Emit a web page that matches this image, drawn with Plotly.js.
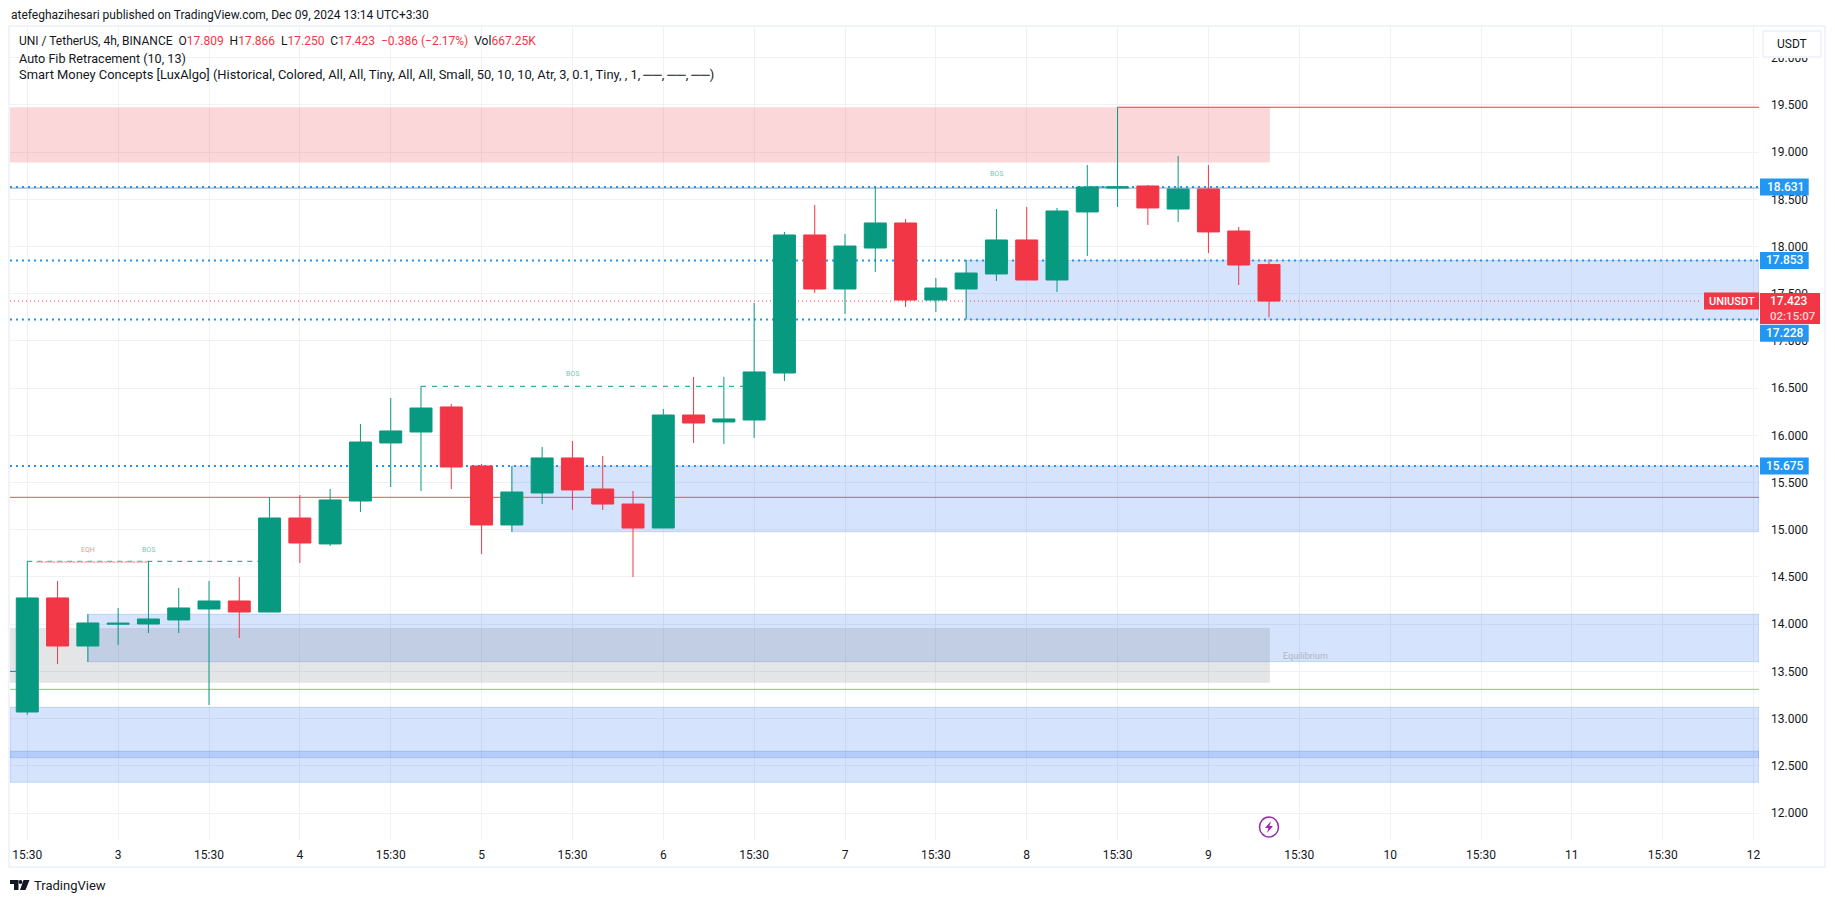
<!DOCTYPE html>
<html><head><meta charset="utf-8">
<script src="https://cdn.plot.ly/plotly-3.0.1.min.js"></script>
<style>html,body{margin:0;padding:0;background:#fff;overflow:hidden}#c{width:1835px;height:903px}</style>
</head><body><div id="c"></div>
<script>
const opens  = [13.07,14.278,13.769,14.0,14.002,14.045,14.161,14.246,14.129,15.125,14.85,15.305,15.92,16.036,16.301,15.676,15.051,15.39,15.761,15.432,15.273,15.019,16.216,16.142,16.163,16.661,18.123,17.551,17.985,18.25,17.434,17.551,17.71,18.07,17.646,18.367,18.62,18.642,18.398,18.61,18.165,17.809];
const highs  = [14.666,14.458,14.108,14.172,14.666,14.383,14.458,14.5,15.344,15.369,15.432,16.121,16.396,16.52,16.333,15.697,15.676,15.877,15.941,15.782,15.411,16.28,16.619,16.619,17.403,18.155,18.441,18.133,18.631,18.292,17.667,17.858,18.398,18.42,18.409,18.864,19.476,18.653,18.96,18.864,18.208,17.866];
const lows   = [13.04,13.578,13.6,13.78,13.907,13.907,13.144,13.854,14.129,14.648,14.828,15.189,15.453,15.411,15.432,14.744,14.977,15.273,15.21,15.21,14.5,15.019,15.92,15.909,15.972,16.576,17.508,17.286,17.731,17.36,17.307,17.233,17.636,17.646,17.519,17.9,18.42,18.229,18.261,17.932,17.593,17.25];
const closes = [14.278,13.769,14.013,14.01,14.055,14.172,14.246,14.129,15.125,14.86,15.316,15.93,16.047,16.29,15.665,15.051,15.4,15.761,15.422,15.273,15.019,16.216,16.131,16.174,16.672,18.123,17.551,18.006,18.25,17.434,17.561,17.72,18.07,17.646,18.377,18.631,18.631,18.409,18.61,18.155,17.805,17.423];
const tickLabels = ['15:30','3','15:30','4','15:30','5','15:30','6','15:30','7','15:30','8','15:30','9','15:30','10','15:30','11','15:30','12'];
const priceTags = [18.631,17.853,17.228,15.675];
const tagShifts = [0,0,13.7,0];
const lastPrice = 17.423;

const GREEN='#089981', RED='#f23645', GRID='#f0f1f5', FRAME='#f0f3fa', INK='#131722', BLUE='#2196f3';
const FONT='Roboto, sans-serif';
const W=1835,H=903,L=10,R=1759,T=27,B=840;
const base=Date.UTC(2024,11,2,15,30);
const d=i=>new Date(base+i*4*3600e3).toISOString().slice(0,19).replace('T',' ');
const times=opens.map((_,i)=>d(i));
const px=v=>(v-L)/(R-L), py=v=>(B-v)/(B-T);
const XL='2024-12-02 13:13', XR='2024-12-12 04:13';

const zone=(i0,y0,y1)=>({type:'rect',layer:'between',xref:'x',yref:'y',x0:i0===null?XL:d(i0),x1:XR,y0,y1,fillcolor:'rgba(47,113,242,0.2)',line:{color:'rgba(47,113,242,0.22)',width:1}});
const band=(i0,i1,y0,y1,c)=>({type:'rect',layer:'between',xref:'x',yref:'y',x0:i0===null?XL:d(i0),x1:d(i1),y0,y1,fillcolor:c,line:{width:0}});
const hline=(y,c,w,dash,i0,i1)=>({type:'line',layer:'between',xref:'x',yref:'y',x0:i0==null?XL:d(i0),x1:i1==null?XR:d(i1),y0:y,y1:y,line:{color:c,width:w,dash:dash||'solid'}});
const tag=(y,x0,x1,h0,h1,c)=>({type:'rect',layer:'above',xref:'paper',yref:'y',ysizemode:'pixel',yanchor:y,x0:px(x0),x1:px(x1),y0:h0,y1:h1,fillcolor:c,line:{width:0}});

const shapes=[
 band(null,41.03,18.89,19.476,'rgba(242,54,69,0.2)'),
 zone(31,17.228,17.853), zone(16,14.98,15.675), zone(2,13.603,14.105),
 zone(null,12.325,13.12), zone(null,12.587,12.654),
 band(null,41.03,13.38,13.96,'rgba(120,123,134,0.2)'),
 hline(15.344,'#e5534b',1), hline(13.31,'#81c784',1),
 hline(18.62,'#8a9bb8',1),
 hline(19.476,RED,1,'solid',36),
 hline(13.5,GREEN,1,'solid',null,0),
 hline(lastPrice,RED,1,'1px,3px',null,55.25),
 hline(14.666,GREEN,1,'5px,5px',0,8),
 hline(14.66,'#f7a1a8',1.5,'3px,1px',0.3,4),
 hline(16.52,GREEN,1,'5px,6px',13,24),
 hline(18.631,GREEN,1,'solid',35,36.3),
 ...priceTags.map(p=>hline(p,BLUE,2,'2px,4px')),
 // price tags on the scale
 ...priceTags.map((p,k)=>tag(p,1760,1808.7,-8.5-tagShifts[k],8.5-tagShifts[k],BLUE)),
 tag(lastPrice,1760,1820,-23,8,RED),
 tag(lastPrice,1704,1759,-8.5,8.5,RED),
 // outer frame and currency box
 {type:'rect',layer:'above',xref:'paper',yref:'paper',x0:px(9),x1:px(1825),y0:py(26),y1:py(867),line:{color:FRAME,width:2}},
 {type:'rect',layer:'above',xref:'paper',yref:'paper',x0:px(1763),x1:px(1821),y0:py(31),y1:py(57),fillcolor:'#fff',line:{color:FRAME,width:2}},
 // lightning badge
 {type:'circle',layer:'above',xref:'x',yref:'y',xsizemode:'pixel',ysizemode:'pixel',xanchor:d(41),yanchor:11.852,x0:-9.5,x1:9.5,y0:-10,y1:10,fillcolor:'#fff',line:{color:'#9c27b0',width:1.5}},
 {type:'path',layer:'above',xref:'x',yref:'y',xsizemode:'pixel',ysizemode:'pixel',xanchor:d(41),yanchor:11.852,path:'M 2 6 L -4 -1 L -0.5 -1 L -2 -6 L 4 1 L 0.5 1 Z',fillcolor:'#9c27b0',line:{width:0}},
 // logo
 {type:'path',layer:'above',xref:'paper',yref:'paper',xsizemode:'pixel',ysizemode:'pixel',xanchor:0,yanchor:0,path:'M 0 -40 L 8.5 -40 L 8.5 -50 L 4 -50 L 4 -44 L 0 -44 Z M 13.5 -40 L 19.5 -40 L 15.5 -50 L 10 -50 Z',fillcolor:INK,line:{width:0}},
 {type:'circle',layer:'above',xref:'paper',yref:'paper',xsizemode:'pixel',ysizemode:'pixel',xanchor:0,yanchor:0,x0:8.6,x1:12.4,y0:-44,y1:-40,fillcolor:INK,line:{width:0}}
];

const txt=(x,y,text,size,color,extra)=>Object.assign({xref:'paper',yref:'paper',x:px(x),y:py(y),text,showarrow:false,xanchor:'left',yanchor:'middle',align:'left',font:{family:FONT,size,color},borderpad:0},extra||{});
const dataTxt=(i,y,text,color,size)=>({xref:'x',yref:'y',x:d(i),y,text,showarrow:false,xanchor:'center',yanchor:'middle',font:{family:FONT,size:size||7,color}});
const r=s=>`<span style="color:${RED}">${s}</span>`;
const annotations=[
 txt(10,15,'atefeghazihesari published on TradingView.com, Dec 09, 2024 13:14 UTC+3:30',12,INK),
 txt(18,41,`UNI / TetherUS, 4h, BINANCE  O${r('17.809')}  H${r('17.866')}  L${r('17.250')}  C${r('17.423')}  ${r('−0.386 (−2.17%)')}  Vol${r('667.25K')}`,12,INK),
 txt(18,58.5,'Auto Fib Retracement (10, 13)',12.6,INK),
 txt(18,75,'Smart Money Concepts [LuxAlgo] (Historical, Colored, All, All, Tiny, All, All, Small, 50, 10, 10, Atr, 3, 0.1, Tiny, , 1, ──, ──, ──)',12.9,INK),
 txt(33,886,'TradingView',13,INK),
 txt(1792,44,'USDT',12,INK,{xanchor:'center'}),
 dataTxt(2,14.79,'EQH','rgba(242,54,69,0.6)'),
 dataTxt(4,14.79,'BOS','rgba(8,153,129,0.6)'),
 dataTxt(18,16.654,'BOS','rgba(8,153,129,0.6)'),
 dataTxt(32,18.766,'BOS','rgba(8,153,129,0.6)'),
 dataTxt(42.2,13.66,'Equilibrium','#b2b5be',9),
 ...priceTags.map((p,k)=>({xref:'paper',yref:'y',x:px(1785.3),y:p,yshift:-tagShifts[k],text:p.toFixed(3),showarrow:false,xanchor:'center',yanchor:'middle',font:{family:FONT,size:12,color:'#fff',weight:500}})),
 {xref:'paper',yref:'y',x:px(1768),y:lastPrice,text:lastPrice.toFixed(3),showarrow:false,xanchor:'left',yanchor:'middle',font:{family:FONT,size:12,color:'#fff',weight:500}},
 {xref:'paper',yref:'y',x:px(1768),y:lastPrice,yshift:-15,text:'02:15:07',showarrow:false,xanchor:'left',yanchor:'middle',font:{family:FONT,size:11.5,color:'rgba(255,255,255,0.8)',weight:500}},
 {xref:'paper',yref:'y',x:px(1731.5),y:lastPrice,text:'UNIUSDT',showarrow:false,xanchor:'center',yanchor:'middle',font:{family:FONT,size:11,color:'#fff',weight:500}}
];

const tickVals=tickLabels.map((_,k)=>d(k*3));
Plotly.newPlot('c',[{
 type:'candlestick',x:times,open:opens,high:highs,low:lows,close:closes,whiskerwidth:0,
 increasing:{line:{color:GREEN,width:1},fillcolor:GREEN},
 decreasing:{line:{color:RED,width:1},fillcolor:RED},
 hoverinfo:'none'
}],{
 width:W,height:H,margin:{l:L,r:W-R,t:T,b:H-B,pad:0},paper_bgcolor:'#fff',plot_bgcolor:'#fff',showlegend:false,boxgap:0.274,boxgroupgap:0,
 font:{family:FONT,size:12,color:INK},
 xaxis:{type:'date',range:[XL,XR],tickmode:'array',tickvals:tickVals,ticktext:tickLabels,showgrid:true,gridcolor:GRID,gridwidth:1,zeroline:false,showline:false,ticks:'',ticklabelstandoff:6,tickangle:0,tickfont:{family:FONT,size:12,color:INK},rangeslider:{visible:false},fixedrange:true},
 yaxis:{side:'right',range:[11.714,20.326],tick0:0,dtick:0.5,tickformat:'.3f',showgrid:true,gridcolor:GRID,gridwidth:1,zeroline:false,showline:false,ticks:'',ticklabelstandoff:11,tickfont:{family:FONT,size:12,color:INK},fixedrange:true},
 shapes,annotations
},{displayModeBar:false,staticPlot:true});
</script></body></html>
